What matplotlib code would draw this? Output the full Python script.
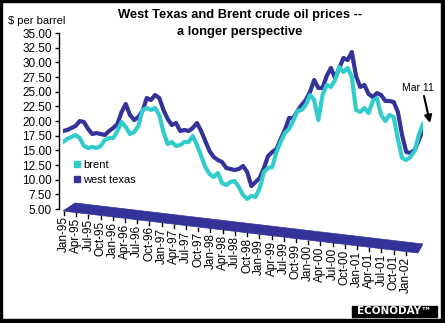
import matplotlib
matplotlib.use('Agg')
import matplotlib.pyplot as plt
from matplotlib.lines import Line2D
from matplotlib.patches import Rectangle, Polygon
import numpy as np

# Monthly prices, Jan-95 .. Mar-02 ($ per barrel)
brent = [16.42, 16.93, 17.27, 17.61, 17.10, 15.74, 15.40, 15.57, 15.40, 15.74, 16.76, 17.10,
         17.10, 18.30, 19.83, 18.98, 17.78, 18.12, 19.15, 21.88, 22.22, 21.88, 22.22, 21.02,
         18.12, 16.08, 16.42, 15.74, 15.91, 16.42, 16.42, 17.44, 15.91, 14.04, 12.16, 10.97,
         10.46, 11.14, 9.43, 9.09, 9.60, 9.77, 8.75, 7.39, 6.71, 7.22, 7.05, 8.58,
         11.31, 11.99, 12.16, 14.72, 16.42, 17.95, 18.64, 20.00, 21.71, 21.88, 22.73, 24.43,
         23.58, 20.17, 24.43, 26.14, 25.80, 26.99, 29.21, 28.35, 29.04, 27.50, 21.88, 21.54,
         22.22, 21.36, 23.41, 23.92, 21.02, 20.00, 21.02, 20.68, 16.93, 13.70, 13.35, 13.87,
         14.89, 17.61, 19.49]
west_texas = [18.30, 18.47, 18.81, 19.15, 20.00, 19.83, 18.64, 17.78, 17.95, 17.78, 17.61, 18.30,
              18.81, 19.49, 21.54, 22.90, 21.02, 20.17, 20.68, 21.71, 23.92, 23.58, 24.43, 23.92,
              21.88, 20.34, 19.32, 19.66, 18.30, 18.47, 18.30, 18.81, 19.66, 18.30, 16.59, 14.89,
              13.87, 13.35, 13.01, 11.99, 11.82, 11.65, 11.82, 12.33, 11.31, 8.92, 9.60, 10.29,
              11.99, 14.04, 14.72, 15.23, 16.93, 18.47, 20.51, 20.51, 21.71, 22.73, 23.58, 24.94,
              26.99, 25.63, 25.63, 27.67, 29.04, 27.33, 29.04, 30.74, 30.40, 31.76, 27.67, 25.80,
              26.14, 24.60, 24.09, 24.77, 24.43, 23.41, 23.41, 23.24, 21.54, 17.61, 14.72, 14.55,
              15.06, 16.76, 18.47]
tick_labels = ['Jan-95', 'Apr-95', 'Jul-95', 'Oct-95', 'Jan-96', 'Apr-96', 'Jul-96', 'Oct-96',
               'Jan-97', 'Apr-97', 'Jul-97', 'Oct-97', 'Jan-98', 'Apr-98', 'Jul-98', 'Oct-98',
               'Jan-99', 'Apr-99', 'Jul-99', 'Oct-99', 'Jan-00', 'Apr-00', 'Jul-00', 'Oct-00',
               'Jan-01', 'Apr-01', 'Jul-01', 'Oct-01', 'Jan-02']
tick_months = list(range(0, 85, 3))
y_ticks = [5.0, 7.5, 10.0, 12.5, 15.0, 17.5, 20.0, 22.5, 25.0, 27.5, 30.0, 32.5, 35.0]

CYAN = '#33CCCC'
NAVY = '#333399'
FONT = 'Liberation Sans'
plt.rcParams['font.family'] = [FONT, 'DejaVu Sans']

W, H = 445, 323
fig = plt.figure(figsize=(W / 100, H / 100), dpi=100)
fig.patch.set_facecolor('white')

ax = fig.add_axes([63 / W, 1 - 260 / H, 360 / W, 227 / H])
ax.set_facecolor('none')
ax.set_xlim(0, 86)
ax.set_ylim(-3.69, 35)

# 3-D style floor
floor = Polygon([(0, 4.66), (2.87, 6.03), (86, -0.96), (84.8, -2.5)], closed=True,
                facecolor=NAVY, edgecolor=NAVY, lw=0.5, zorder=1)
ax.add_patch(floor)

x = np.arange(len(brent))
ax.plot(x, west_texas, color=NAVY, lw=3, zorder=3)
ax.plot(x, brent, color=CYAN, lw=3, zorder=4)

for sp in ['top', 'right', 'bottom']:
    ax.spines[sp].set_visible(False)
ax.spines['left'].set_bounds(5, 35)
ax.spines['left'].set_position(('outward', 3))
ax.spines['left'].set_linewidth(1)
ax.set_yticks(y_ticks)
ax.set_yticklabels(['%.2f' % v for v in y_ticks])
ax.tick_params(axis='y', direction='out', length=3, width=1, pad=2, labelsize=8.5)
ax.set_xticks([])

# category labels along the slanted floor front edge
for m, lab in zip(tick_months, tick_labels):
    xd = m * 0.972 + 0.24
    y_edge = 4.66 - 0.08443 * xd
    ax.plot([xd, xd], [y_edge - 0.1, y_edge - 0.6], color='black', lw=1, zorder=2,
            clip_on=False)
    ax.annotate(lab, (xd, y_edge), xytext=(0, -5), textcoords='offset pixels',
                rotation=90, ha='center', va='top', fontsize=8.5, annotation_clip=False)

# legend
handles = [Line2D([], [], marker='s', ls='none', color=CYAN, markersize=5),
           Line2D([], [], marker='s', ls='none', color=NAVY, markersize=5)]
ax.legend(handles, ['brent', 'west texas'], loc='upper left',
          bbox_to_anchor=(71 / W, 1 - 160 / H), bbox_transform=fig.transFigure,
          frameon=False, handletextpad=0.1, labelspacing=0.45, borderpad=0,
          borderaxespad=0, fontsize=8, handlelength=1.0)

# titles
fig.text(240 / W, 1 - 15 / H, 'West Texas and Brent crude oil prices --', ha='center',
         va='center', fontsize=9.3, weight='bold')
fig.text(240 / W, 1 - 32 / H, 'a longer perspective', ha='center', va='center',
         fontsize=9.3, weight='bold')
fig.text(8 / W, 1 - 21 / H, '$ per barrel', ha='left', va='center', fontsize=8)

# Mar 11 annotation
fig.text(418 / W, 1 - 88 / H, 'Mar 11', ha='center', va='center', fontsize=7.5)
ax.annotate('', xy=(430, H - 123), xycoords='figure pixels', xytext=(424, H - 96),
            textcoords='figure pixels',
            arrowprops=dict(arrowstyle='-|>', color='black', lw=1.5, mutation_scale=11,
                            shrinkA=0, shrinkB=0), annotation_clip=False)

# frame
fig.patches.append(Rectangle((0, 0), 1.5 / W, 1, transform=fig.transFigure, color='black'))
fig.patches.append(Rectangle((0, 1 - 1.5 / H), 1, 1.5 / H, transform=fig.transFigure, color='black'))
fig.patches.append(Rectangle((1 - 4 / W, 0), 4 / W, 1, transform=fig.transFigure, color='black'))
fig.patches.append(Rectangle((0, 0), 1, 4 / H, transform=fig.transFigure, color='black'))

# logo
fig.patches.append(Rectangle((352 / W, 1 - 317 / H), 85 / W, 11 / H,
                             transform=fig.transFigure, color='black'))
fig.text(394 / W, 1 - 311.5 / H, 'ECONODAY\u2122', ha='center', va='center',
         fontsize=7.5, weight='bold', color='white', family='DejaVu Sans')

fig.savefig('out.png', dpi=100)
